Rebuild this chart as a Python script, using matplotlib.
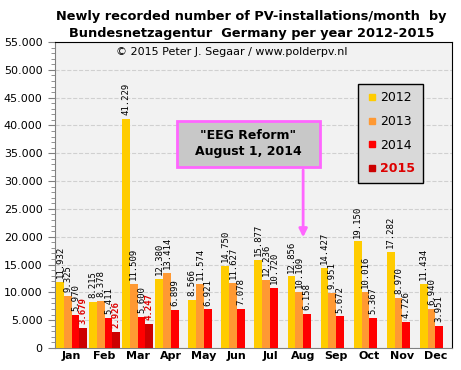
import matplotlib
matplotlib.use('Agg')
import matplotlib.pyplot as plt
import numpy as np
from matplotlib.ticker import FuncFormatter, MultipleLocator
from matplotlib.lines import Line2D
from matplotlib.patches import Rectangle

months = ['Jan', 'Feb', 'Mar', 'Apr', 'May', 'Jun', 'Jul', 'Aug', 'Sep', 'Oct', 'Nov', 'Dec']
years = ['2012', '2013', '2014', '2015']
y2012 = [11932, 8215, 41229, 12380, 8566, 14750, 15877, 12856, 14427, 19150, 17282, 11434]
y2013 = [9325, 8378, 11509, 13414, 11574, 11627, 12236, 10109, 9951, 10016, 8970, 6940]
y2014 = [5970, 5411, 5600, 6899, 6921, 7078, 10720, 6158, 5672, 5367, 4726, 3951]
y2015 = [3679, 2926, 4247]
colors = ['#ffcc00', '#ff9933', '#ff0000', '#cc0000']


def fmt_thousands(v):
    return '{:,}'.format(int(v)).replace(',', '.')


fig = plt.figure(figsize=(4.61, 3.70), dpi=100)
ax = fig.add_axes([55 / 461, 1 - 348 / 370, 397 / 461, 306 / 370])
ax.set_facecolor('#f2f2f2')

w = 0.235
x = np.arange(len(months))
series = [y2012, y2013, y2014, y2015]
for k, vals in enumerate(series):
    xs = x[:len(vals)] + (k - 1.5) * w
    ax.bar(xs, vals, width=w, color=colors[k], zorder=3)
    for xi, v in zip(xs, vals):
        if k == 3:
            ax.text(xi, v + 700, fmt_thousands(v), rotation=90, ha='center', va='bottom',
                    fontsize=6.5, family='DejaVu Sans Mono', color='#dd0000', fontweight='bold', zorder=4)
        else:
            ax.text(xi, v + 700, fmt_thousands(v), rotation=90, ha='center', va='bottom',
                    fontsize=6.5, family='DejaVu Sans Mono', color='black', zorder=4)

ax.set_xlim(-0.5, 11.5)
ax.set_ylim(0, 55000)
ax.yaxis.set_major_locator(MultipleLocator(5000))
ax.yaxis.set_minor_locator(MultipleLocator(1000))
ax.yaxis.set_major_formatter(FuncFormatter(lambda v, pos: fmt_thousands(v)))
ax.grid(axis='y', which='major', color='#d0d0d0', linestyle='--', linewidth=0.8, zorder=0)
ax.set_xticks(x)
ax.set_xticklabels(months, fontweight='bold', fontsize=8)
ax.tick_params(axis='x', length=0, pad=2)
ax.tick_params(axis='y', which='major', length=5, color='#808080', labelsize=8, pad=4)
ax.tick_params(axis='y', which='minor', length=3, color='#808080')
for side in ['top', 'right']:
    ax.spines[side].set_color('black')
ax.spines['left'].set_color('#808080')
ax.spines['bottom'].set_color('#808080')

# copyright
ax.text(0.446, 0.967, '\u00a9 2015 Peter J. Segaar / www.polderpv.nl', transform=ax.transAxes,
        ha='center', va='center', fontsize=8)

# EEG reform annotation
ax.annotate('', xy=(7, 19400), xytext=(7, 32500),
            arrowprops=dict(arrowstyle='-|>', color='#ff66ff', lw=2, mutation_scale=12), zorder=5)
ax.add_patch(Rectangle((3.19, 32530), 4.32, 8270, facecolor='#c8c8c8', edgecolor='#ff66ff',
                       linewidth=2, zorder=6))
ax.text(5.35, 36670, '"EEG Reform"\nAugust 1, 2014', ha='center', va='center', fontsize=9,
        fontweight='bold', linespacing=1.3, zorder=7)

# legend
handles = [Line2D([], [], marker='s', linestyle='', markersize=5, color=c) for c in colors]
leg = ax.legend(handles, years, loc='upper left', bbox_to_anchor=(0.763, 0.863), fontsize=9,
                frameon=True, fancybox=False, edgecolor='black', facecolor='#d9d9d9', framealpha=1,
                labelspacing=0.85, handletextpad=0.2, handlelength=1.0, borderpad=0.6,
                borderaxespad=0)
leg.get_frame().set_linewidth(1)
leg.get_texts()[3].set_color('#dd0000')
leg.get_texts()[3].set_fontweight('bold')

fig.text(0.545, 0.972, 'Newly recorded number of PV-installations/month  by', ha='center', va='top',
         fontsize=9.3, fontweight='bold')
fig.text(0.545, 0.927, 'Bundesnetzagentur  Germany per year 2012-2015', ha='center', va='top',
         fontsize=9.3, fontweight='bold')

fig.savefig('out.png', dpi=100)
